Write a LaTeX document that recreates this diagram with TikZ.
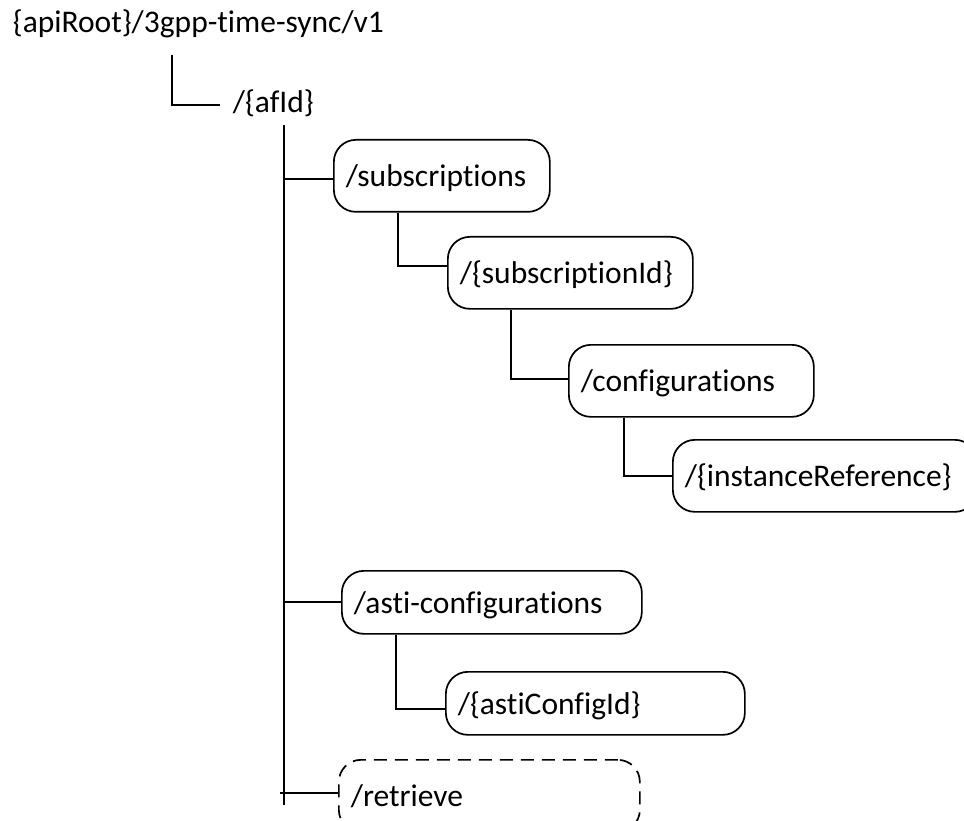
\documentclass[tikz,border=0pt]{standalone}
\usepackage{fontspec}
\setmainfont{Carlito}[Ligatures=CommonOff]
\begin{document}
\begin{tikzpicture}[x=1pt,y=-1pt,
  line width=1.8pt,
  lbl/.style={font=\fontsize{31.5}{37}\selectfont, inner sep=0pt},
  res/.style={draw, rounded corners=22pt, anchor=north west, align=left,
    inner xsep=12pt, inner ysep=0pt, text height=28pt, text depth=6pt,
    font=\fontsize{31.5}{37}\selectfont, line width=1.7pt},
  optres/.style={res, dash pattern=on 13pt off 8pt},
  link/.style={line width=1.8pt}]
\useasboundingbox (0,0) rectangle (964,821);
\clip (0,0) rectangle (964,821);

% root and collection texts
\node[lbl, anchor=base west] (root) at (12,33) {\{apiRoot\}/3gpp-time-sync/v1};
\node[lbl, anchor=base west] (afid) at (232,113) {/\{afId\}};

% resource boxes
\node[res, minimum height=72pt, text width=192pt] (sub)   at (333,139) {/subscriptions};
\node[res, minimum height=72pt, text width=221pt] (subid) at (447,236) {/\{subscriptionId\}};
\node[res, minimum height=72pt, text width=221pt] (conf)  at (568,344) {/configurations};
\node[res, minimum height=72pt, text width=280pt] (inst)  at (672,439) {/\{instanceReference\}};
\node[res, minimum height=63pt, text width=276pt] (asti)  at (341,570) {/asti-configurations};
\node[res, minimum height=63pt, text width=275pt] (astiid) at (445,671) {/\{astiConfigId\}};
\node[optres, minimum height=72pt, text width=277pt] (retr) at (338,759) {/retrieve};

% tree connectors
\coordinate (rootDrop) at (172,55);
\coordinate (afJoin) at (220,105);
\draw[link] (rootDrop) |- (afJoin);

\coordinate (afTop) at (284,125);
\coordinate (afEnd) at (284,805);
\coordinate (subIn)  at ([yshift=-3pt]sub.west);
\coordinate (retrIn) at ([yshift=3pt]retr.west);
\coordinate (subidIn) at ([yshift=7pt]subid.west);
\coordinate (confIn) at ([yshift=2pt]conf.west);
\coordinate (astiidIn) at ([yshift=-6pt]astiid.west);

\draw[link] (afTop) -- (afEnd);
\draw[link] (afTop |- subIn) -- (subIn);
\draw[link] (afTop |- asti.west) -- (asti.west);
\draw[link] ([xshift=-4pt]afTop |- retrIn) -- (retrIn);

\draw[link] ([xshift=65pt]sub.south west) |- (subidIn);
\draw[link] ([xshift=64pt]subid.south west) |- (confIn);
\draw[link] ([xshift=56pt]conf.south west) |- (inst.west);
\draw[link] ([xshift=55pt]asti.south west) |- (astiidIn);
\end{tikzpicture}
\end{document}
